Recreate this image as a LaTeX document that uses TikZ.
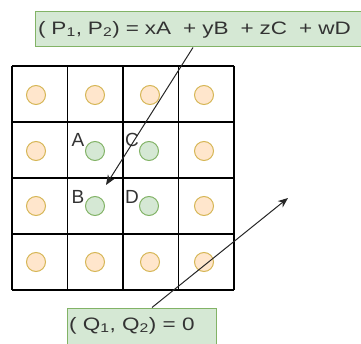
\documentclass[tikz,border=0pt]{standalone}
\usepackage{fontspec}
\setmainfont{Liberation Sans}
\newfontfamily\boxfont[FakeStretch=1.25]{Liberation Sans}
\usetikzlibrary{arrows.meta}
\definecolor{gfill}{HTML}{D5E8D4}
\definecolor{gline}{HTML}{82B366}
\definecolor{ofill}{HTML}{FFE6CC}
\definecolor{oline}{HTML}{D6B656}
\definecolor{txt}{HTML}{333333}

\begin{document}
\begin{tikzpicture}[x=1pt,y=-1pt,
    dot/.style={circle,draw=oline,fill=ofill,line width=1pt,minimum size=19pt,inner sep=0pt},
    gdot/.style={dot,draw=gline,fill=gfill},
    lbl/.style={inner sep=0pt,text=txt,font=\fontsize{19}{21}\selectfont},
    gbox/.style={draw=gline,fill=gfill,line width=1pt,inner xsep=3pt,text=txt,font=\boxfont\fontsize{18}{20}\selectfont},
    arr/.style={-{Stealth[length=10pt,width=8pt]},line width=1pt,draw=black!85}]
    \useasboundingbox (0,0) rectangle (361,344);

    % grid
    \foreach \gx in {12,67.5,123,178.5,234}
        \draw[line width=1.3pt] (\gx,66) -- (\gx,290);
    \foreach \gy in {66,122,178,234,290}
        \draw[line width=1.3pt] (12,\gy) -- (234,\gy);

    % outer points
    \foreach \cx/\cy [count=\i] in {36/95,95/95,150/95,204/95,36/151,204/151,36/206,204/206,36/262,95/262,150/262,204/262}
        \node[dot] (o\i) at (\cx,\cy) {};

    % inner points
    \node[gdot] (ga) at (95,151) {};
    \node[gdot] (gc) at (149,151) {};
    \node[gdot] (gb) at (95,206) {};
    \node[gdot] (gd) at (149,206) {};
    \node[lbl] (la) at (78,140) {A};
    \node[lbl] (lc) at (132,140) {C};
    \node[lbl] (lb) at (78,197) {B};
    \node[lbl] (ld) at (132,197) {D};

    % formula boxes
    \node[gbox,minimum width=327pt,minimum height=35pt,text width=321pt,align=left] (pbox) at (198.5,29.5)
        {( P\textsubscript{1}, P\textsubscript{2}) = xA \ + yB \ + zC \ + wD};
    \node[gbox,minimum width=149pt,minimum height=42pt] (qbox) at (141.5,329) {};
    \node[lbl,font=\boxfont\fontsize{18}{20}\selectfont,anchor=base west] (qtext) at (69,330)
        {( Q\textsubscript{1}, Q\textsubscript{2}) = 0};

    \coordinate (ptip) at (106,185);
    \coordinate (qtip) at (288,198);
    \draw[arr] ([xshift=-5.5pt]pbox.south) -- (ptip);
    \draw[arr] ([xshift=10.5pt]qbox.north) -- (qtip);
\end{tikzpicture}
\end{document}
